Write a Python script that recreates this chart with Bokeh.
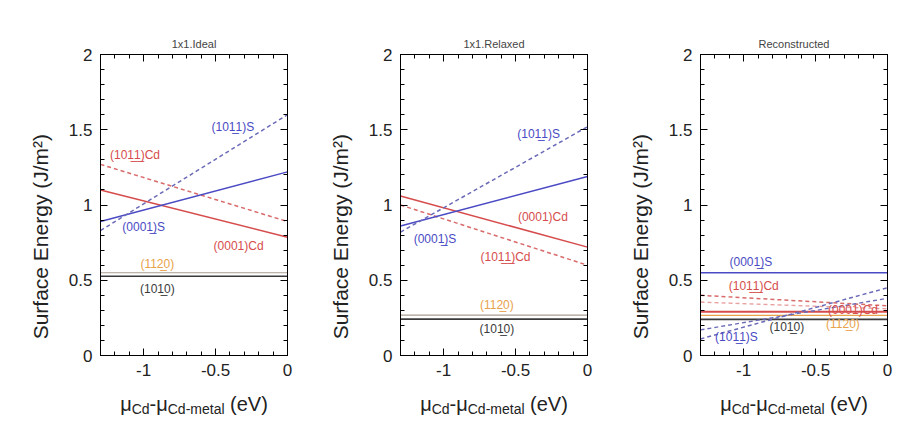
from bokeh.plotting import figure
from bokeh.models import Range1d, LinearAxis, SingleIntervalTicker, ColumnDataSource
from bokeh.layouts import row, column
from bokeh.embed import file_html
from bokeh.resources import INLINE
from bokeh.core.properties import value
import math

# ---------------- data ----------------
mu_ends = [-1.3, 0.0]            # mu_Cd - mu_Cd-metal (eV), line endpoints
x_ticks = [-1, -0.5, 0]
y_ticks = [0, 0.5, 1, 1.5, 2]
panel_titles = ["1x1.Ideal", "1x1.Relaxed", "Reconstructed"]
y_title = "Surface Energy (J/m\u00b2)"
x_title_parts = [("\u03bc", "main"), ("Cd", "sub"), ("-\u03bc", "main"), ("Cd-metal", "sub"), (" (eV)", "main")]

# surface energies (J/m^2) at mu = -1.3 and mu = 0
ideal_0001_S = [0.89, 1.22]
ideal_0001_Cd = [1.10, 0.786]
ideal_1011_S = [0.83, 1.60]
ideal_1011_Cd = [1.27, 0.89]
ideal_1120 = [0.55, 0.55]
ideal_1010 = [0.527, 0.527]

relaxed_0001_S = [0.86, 1.19]
relaxed_0001_Cd = [1.06, 0.72]
relaxed_1011_S = [0.82, 1.52]
relaxed_1011_Cd = [1.00, 0.60]
relaxed_1120 = [0.268, 0.268]
relaxed_1010 = [0.242, 0.242]

recon_0001_S = [0.55, 0.55]
recon_0001_Cd = [0.29, 0.29]
recon_1011_S = [0.11, 0.45]
recon_1011_S_b = [0.17, 0.38]
recon_1011_Cd = [0.40, 0.33]
recon_1011_Cd_b = [0.355, 0.31]
recon_1120 = [0.266, 0.266]
recon_1010 = [0.24, 0.24]

U = "\u0332"
T_1011S = "(101" + U + "1)S"
T_1011Cd = "(101" + U + "1" + U + ")Cd"
T_0001S = "(0001" + U + ")S"
T_0001Cd = "(0001)Cd"
T_1120 = "(112" + U + "0)"
T_1010 = "(101" + U + "0)"

# ---------------- styles ----------------
BLUE = "#4a4ac4"
BLUE_D = "#6a6ab8"
RED = "#d64c4c"
RED_D = "#d86a6a"
PINK_D = "#e8a0a0"
ORANGE = "#e8a24a"
LGRAY = "#a89c90"
BLACK = "#3a3a3a"
TXT = "#222222"
FONT = "Liberation Sans"

panels = [
    dict(series=[(ideal_1120, LGRAY, "solid", 1.2), (ideal_1010, BLACK, "solid", 1.6),
                 (ideal_0001_Cd, RED, "solid", 1.5), (ideal_1011_Cd, RED_D, "4 3", 1.5),
                 (ideal_0001_S, BLUE, "solid", 1.5), (ideal_1011_S, BLUE_D, "4 3", 1.5)],
         labels=[(T_1011S, -0.38, 1.52, BLUE), (T_1011Cd, -1.06, 1.335, RED),
                 (T_0001S, -1.0, 0.855, BLUE), (T_0001Cd, -0.34, 0.73, RED),
                 (T_1120, -0.905, 0.61, ORANGE), (T_1010, -0.905, 0.445, BLACK)]),
    dict(series=[(relaxed_1120, LGRAY, "solid", 1.2), (relaxed_1010, BLACK, "solid", 1.6),
                 (relaxed_0001_Cd, RED, "solid", 1.5), (relaxed_1011_Cd, RED_D, "4 3", 1.5),
                 (relaxed_0001_S, BLUE, "solid", 1.5), (relaxed_1011_S, BLUE_D, "4 3", 1.5)],
         labels=[(T_1011S, -0.34, 1.475, BLUE), (T_0001Cd, -0.31, 0.92, RED),
                 (T_0001S, -1.06, 0.775, BLUE), (T_1011Cd, -0.57, 0.655, RED),
                 (T_1120, -0.63, 0.335, ORANGE), (T_1010, -0.63, 0.178, BLACK)]),
    dict(series=[(recon_1010, BLACK, "solid", 1.6), (recon_1120, ORANGE, "solid", 1.3),
                 (recon_0001_Cd, RED, "solid", 2.0), (recon_1011_Cd_b, PINK_D, "4 3", 1.4),
                 (recon_1011_Cd, RED_D, "4 3", 1.5), (recon_0001_S, BLUE, "solid", 1.5),
                 (recon_1011_S_b, BLUE_D, "4 3", 1.4), (recon_1011_S, BLUE_D, "4 3", 1.5)],
         labels=[(T_0001S, -0.95, 0.62, BLUE), (T_1011Cd, -0.93, 0.465, RED),
                 (T_0001Cd, -0.24, 0.30, RED), (T_1120, -0.31, 0.21, ORANGE),
                 (T_1010, -0.70, 0.19, BLACK), (T_1011S, -1.05, 0.125, BLUE)]),
]

x_overrides = {t: ("%g" % t) for t in x_ticks}
y_overrides = {t: ("%g" % t) for t in y_ticks}

# layout geometry (pixels)
YS_W = 58                      # left strip holding the y title
FW, FH = 187, 301
BL, BR, BT, BB = 100 - YS_W, 13, 54, 30
MAIN_H = BT + FH + BB
XS_H = 36
PANEL_W = YS_W + BL + FW + BR
MAIN_PX, SUB_PX = 20, 14
GLYPH_W = {"\u03bc": 0.576, "C": 0.722, "d": 0.556, "-": 0.333, "m": 0.833, "e": 0.556,
           "t": 0.278, "a": 0.556, "l": 0.222, " ": 0.278, "(": 0.333, ")": 0.333, "V": 0.667}


def style_axis(ax, show_labels, overrides):
    ax.axis_line_color = "black"
    ax.major_tick_in = 7
    ax.major_tick_out = 0
    ax.minor_tick_in = 4
    ax.minor_tick_out = 0
    ax.major_tick_line_color = "black"
    ax.minor_tick_line_color = "black"
    if show_labels:
        ax.major_label_text_font = FONT
        ax.major_label_text_font_size = "17px"
        ax.major_label_text_color = TXT
        ax.major_label_standoff = 8
        ax.major_label_overrides = overrides
    else:
        ax.major_label_text_font_size = "0px"
        ax.major_label_standoff = 0
        ax.major_label_text_color = None


def blank(w, h):
    s = figure(width=w, height=h, x_range=Range1d(0, w), y_range=Range1d(0, h),
               output_backend="svg", toolbar_location=None, min_border=0,
               x_axis_location=None, y_axis_location=None)
    s.xgrid.grid_line_color = None
    s.ygrid.grid_line_color = None
    s.outline_line_color = None
    s.background_fill_color = None
    s.border_fill_color = None
    return s


cells = []
for title, pan in zip(panel_titles, panels):
    p = figure(frame_width=FW, frame_height=FH,
               x_range=Range1d(mu_ends[0], mu_ends[1]), y_range=Range1d(y_ticks[0], y_ticks[-1]),
               output_backend="svg", toolbar_location=None,
               min_border_left=BL, min_border_right=BR,
               min_border_top=BT, min_border_bottom=BB, title=title)
    p.title.align = "center"
    p.title.text_font = FONT
    p.title.text_font_size = "11px"
    p.title.text_font_style = "normal"
    p.title.text_color = "#444444"
    p.xgrid.grid_line_color = None
    p.ygrid.grid_line_color = None
    p.outline_line_color = "black"
    p.background_fill_color = None
    p.border_fill_color = None

    p.xaxis.ticker = SingleIntervalTicker(interval=0.5, num_minor_ticks=5)
    p.yaxis.ticker = SingleIntervalTicker(interval=0.5, num_minor_ticks=5)
    style_axis(p.xaxis[0], True, x_overrides)
    style_axis(p.yaxis[0], True, y_overrides)
    top = LinearAxis(ticker=SingleIntervalTicker(interval=0.5, num_minor_ticks=5))
    style_axis(top, False, None)
    p.add_layout(top, "above")
    rgt = LinearAxis(ticker=SingleIntervalTicker(interval=0.5, num_minor_ticks=5))
    style_axis(rgt, False, None)
    p.add_layout(rgt, "right")

    for vals, col, dash, lw in pan["series"]:
        p.line(x=mu_ends, y=vals, line_color=col, line_dash=dash, line_width=lw)

    src = ColumnDataSource(dict(x=[l[1] for l in pan["labels"]], y=[l[2] for l in pan["labels"]],
                                text=[l[0] for l in pan["labels"]], color=[l[3] for l in pan["labels"]]))
    p.text(x="x", y="y", text="text", text_color="color", source=src,
           text_font=value(FONT), text_font_size="12px",
           text_align="center", text_baseline="middle")

    # left strip: rotated y title
    ys = blank(YS_W, MAIN_H)
    ys.text(x=[40], y=[MAIN_H - 233], text=[y_title], angle=math.pi / 2,
            text_font=value(FONT), text_font_size="21px", text_color=TXT,
            text_align="center", text_baseline="middle")

    # bottom strip: x title with subscripts
    xs = blank(PANEL_W, XS_H)
    sizes = {"main": MAIN_PX, "sub": SUB_PX}
    total = sum(sum(GLYPH_W[c] for c in t) * sizes[k] for t, k in x_title_parts)
    pos = 100 + FW / 2 - total / 2
    cols = {"main": dict(x=[], y=[], text=[]), "sub": dict(x=[], y=[], text=[])}
    for t, k in x_title_parts:
        stripped = t.lstrip(" ")
        pos += (len(t) - len(stripped)) * GLYPH_W[" "] * sizes[k]
        cols[k]["x"].append(pos)
        cols[k]["y"].append(18 if k == "main" else 13)
        cols[k]["text"].append(stripped)
        pos += sum(GLYPH_W[c] for c in stripped) * sizes[k]
    for k in ("main", "sub"):
        xs.text(x="x", y="y", text="text", source=ColumnDataSource(cols[k]),
                text_font=value(FONT), text_font_size="%dpx" % sizes[k], text_color=TXT,
                text_align="left", text_baseline="alphabetic")

    cells.append(column(row(ys, p), xs))

layout = row(*cells)
open("out.html", "w").write(file_html(layout, INLINE))
